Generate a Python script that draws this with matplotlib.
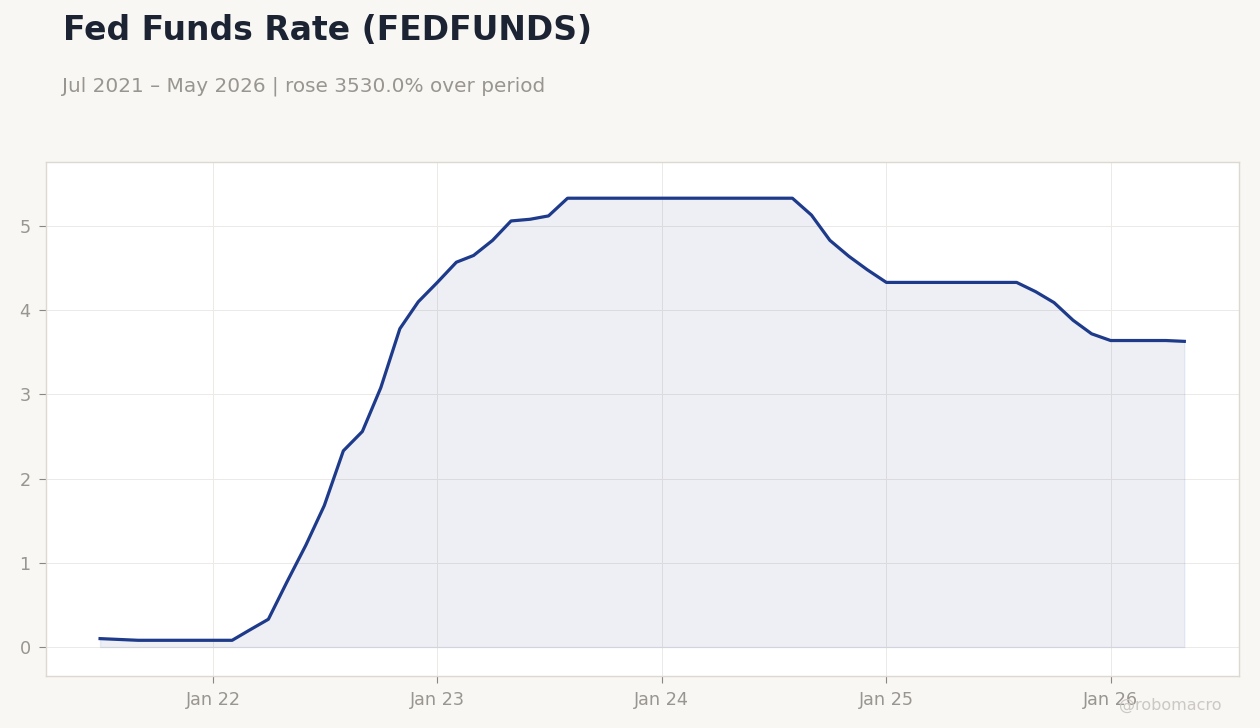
import matplotlib
matplotlib.use("Agg")
import matplotlib.pyplot as plt
import pandas as pd

plt.rcParams["font.family"] = ["DejaVu Sans"]

dates = pd.date_range("2021-07-01", "2026-05-01", freq="MS")
rates = [
    0.10, 0.09, 0.08, 0.08, 0.08, 0.08,              # Jul-Dec 2021
    0.08, 0.08, 0.20, 0.33, 0.77, 1.21,              # Jan-Jun 2022
    1.68, 2.33, 2.56, 3.08, 3.78, 4.10,              # Jul-Dec 2022
    4.33, 4.57, 4.65, 4.83, 5.06, 5.08,              # Jan-Jun 2023
    5.12, 5.33, 5.33, 5.33, 5.33, 5.33,              # Jul-Dec 2023
    5.33, 5.33, 5.33, 5.33, 5.33, 5.33,              # Jan-Jun 2024
    5.33, 5.33, 5.13, 4.83, 4.64, 4.48,              # Jul-Dec 2024
    4.33, 4.33, 4.33, 4.33, 4.33, 4.33,              # Jan-Jun 2025
    4.33, 4.33, 4.22, 4.09, 3.88, 3.72,              # Jul-Dec 2025
    3.64, 3.64, 3.64, 3.64, 3.63,                    # Jan-May 2026
]
tick_years = [2022, 2023, 2024, 2025, 2026]
tick_labels = ["Jan 22", "Jan 23", "Jan 24", "Jan 25", "Jan 26"]

title = "Fed Funds Rate (FEDFUNDS)"
subtitle = "Jul 2021 – May 2026 | rose 3530.0% over period"

BG = "#f8f7f4"
LINE = "#1e3a8a"
TXT = "#99958f"

fig = plt.figure(figsize=(12.6, 7.28), dpi=100, facecolor=BG)
ax = fig.add_axes([46/1260, 1-676/728, (1239-46)/1260, (676-162)/728])
ax.set_facecolor("white")

ax.fill_between(dates, rates, 0, color=LINE, alpha=0.08, linewidth=1.0)
ax.plot(dates, rates, color=LINE, linewidth=2.3, solid_joinstyle="round")

ax.set_xlim(pd.Timestamp("2021-04-04"), pd.Timestamp("2026-07-29"))
ax.set_ylim(-0.344, 5.76)
ax.set_xticks([pd.Timestamp(f"{y}-01-01") for y in tick_years])
ax.set_xticklabels(tick_labels)
ax.set_yticks([0, 1, 2, 3, 4, 5])

ax.grid(True, color="#ece9e6", linewidth=0.7)
ax.set_axisbelow(True)
for s in ax.spines.values():
    s.set_color("#ddd8d0")
    s.set_linewidth(1.0)
ax.tick_params(colors="#8a8682", labelcolor=TXT, labelsize=12.7, length=5, width=0.8, pad=6)

fig.text(63/1260, 1-30/728, title, fontsize=23.8, fontweight="bold", color="#1c2333",
         ha="left", va="center")
fig.text(62/1260, 1-86/728, subtitle, fontsize=14.4, color=TXT, ha="left", va="center")
fig.text(1222/1260, 1-705/728, "@robomacro", fontsize=11.5, color="#ccc8c3",
         ha="right", va="center")

fig.savefig("out.png", dpi=100, facecolor=BG)
